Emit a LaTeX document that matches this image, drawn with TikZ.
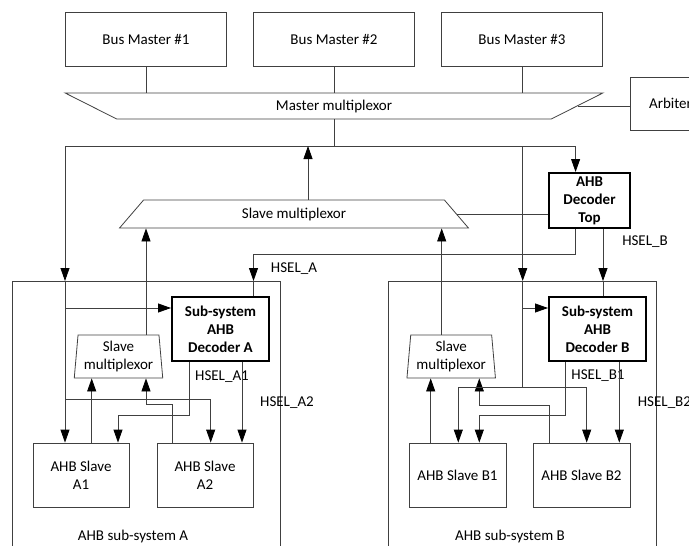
\documentclass[tikz,border=0pt]{standalone}
\usepackage{fontspec}
\setmainfont{Carlito}
\usetikzlibrary{arrows.meta,shapes.geometric}

\begin{document}
\begin{tikzpicture}[x=1pt,y=-1pt,>={Triangle[length=13pt,width=9pt,color=black]},node distance=188pt,
  every node/.style={font=\fontsize{15}{18}\selectfont},
  wire/.style={draw=black!75,line width=0.8pt},
  box/.style={draw=black!75,line width=0.8pt,inner sep=0pt,align=center},
  decoder/.style={draw=black,line width=2pt,inner sep=0pt,align=center,font=\fontsize{15}{18}\selectfont\bfseries},
  mux/.style={trapezium,trapezium stretches=true,draw=black!75,line width=0.8pt,inner sep=0pt,align=center},
  frame/.style={draw=black!75,line width=0.8pt,anchor=north west,minimum width=268pt,minimum height=280pt},
  lbl/.style={inner sep=0pt}]
  \useasboundingbox (0,0) rectangle (689,546);

  \node[box,minimum width=161pt,minimum height=54pt] (bm1) at (146,39) {Bus Master \#1};
  \node[box,minimum width=161pt,minimum height=54pt] (bm2) [right of=bm1] {Bus Master \#2};
  \node[box,minimum width=161pt,minimum height=54pt] (bm3) [right of=bm2] {Bus Master \#3};
  \node[mux,shape border rotate=180,trapezium angle=43,minimum width=538pt,minimum height=26pt] (mmux) at (334,106) {Master multiplexor};
  \node[box,minimum width=80pt,minimum height=53pt] (arb) at (670.5,103.5) {Arbiter}; % rechts abgeschnitten wie im Original
  \node[mux,trapezium angle=57,minimum width=349pt,minimum height=28pt] (smux) at (294,214) {Slave multiplexor};
  \node[decoder,minimum width=81pt,minimum height=55pt] (dectop) at (589.5,200.5) {AHB\\Decoder\\Top};

  \node[frame] (subA) at (11.7,281) {};
  \node[frame] (subB) at (388,281) {};
  \node (labA) at (133,536) {AHB sub-system A};
  \node (labB) at (510,536) {AHB sub-system B};

  \node[decoder,minimum width=97pt,minimum height=64pt] (decA) at (220.5,329) {Sub-system\\AHB\\Decoder A};
  \node[decoder,minimum width=97pt,minimum height=64pt] (decB) at (597.5,329) {Sub-system\\AHB\\Decoder B};
  \node[mux,trapezium angle=84,minimum width=89pt,minimum height=43pt] (smuxA) at (118.5,356.5) {Slave\\multiplexor};
  \node[mux,trapezium angle=84,minimum width=89pt,minimum height=43pt] (smuxB) at (451.2,356.5) {Slave\\multiplexor};
  \node[box,minimum width=96pt,minimum height=64pt] (slA1) at (81,475) {AHB Slave\\A1};
  \node[box,minimum width=96pt,minimum height=64pt] (slA2) [right of=slA1,node distance=124pt] {AHB Slave\\A2};
  \node[box,minimum width=97pt,minimum height=64pt] (slB1) at (457.5,475) {AHB Slave B1};
  \node[box,minimum width=97pt,minimum height=64pt] (slB2) [right of=slB1,node distance=124pt] {AHB Slave B2};

  \node[lbl] (hselA) at (294,269) {HSEL\_A};
  \node[lbl] (hselB) at (645,242) {HSEL\_B};
  \node[lbl] (hselA1) at (222,377) {HSEL\_A1};
  \node[lbl] (hselA2) at (287,403) {HSEL\_A2};
  \node[lbl] (hselB1) at (598,376) {HSEL\_B1};
  \node[lbl,anchor=west] (hselB2) at (637.7,403) {HSEL\_B2};

  \coordinate (busL) at (65,146);
  \coordinate (busR) at (575.6,146);
  \coordinate (busB) at (522.7,146);
  \coordinate (selA) at (253.5,254);
  \coordinate (enA) at (65,308);
  \coordinate (enB) at (522.7,308);
  \coordinate (forkA) at (65,399);
  \coordinate (retA) at (146,404);
  \coordinate (selA1) at (118,415);
  \coordinate (forkB1) at (458.3,387.7);
  \coordinate (forkB2) at (586.7,387.7);
  \coordinate (retB) at (479.3,405);
  \coordinate (selB1) at (479.3,415);

  % Master-Seite
  \draw[wire] (bm1.south) -- (bm1.south |- mmux.north);
  \draw[wire] (bm2.south) -- (bm2.south |- mmux.north);
  \draw[wire] (bm3.south) -- (bm3.south |- mmux.north);
  \draw[wire] (mmux.east) -- (arb.west |- mmux.east);
  \draw[wire] (mmux.south) -- (mmux.south |- busL);
  \draw[wire] (busL) -- (busR);
  \draw[wire,->] (busR) -- (busR |- dectop.north);
  \draw[wire,->] (busL) -- (busL |- subA.north);
  \draw[wire,->] (busL |- subA.north) -- (busL |- slA1.north);
  \draw[wire,->] (busB) -- (busB |- subB.north);
  \draw[wire] (busB |- subB.north) -- (busB |- forkB1);
  \draw[wire,->] ([xshift=14pt]smux.north) -- ([xshift=14pt]smux.north |- busL);
  \draw[wire] (smux.east) -- (smux.east -| dectop.west);
  \draw[wire,->] ([xshift=27.5pt]smuxA.north) -- ([xshift=27.5pt]smuxA.north |- smux.south);
  \draw[wire,->] ([xshift=-9.5pt]smuxB.north) -- ([xshift=-9.5pt]smuxB.north |- smux.south);
  \draw[wire,->] ([xshift=-14pt]dectop.south) |- (selA) -- (selA |- subA.north);
  \draw[wire] (selA |- subA.north) -- (selA |- decA.north);
  \draw[wire,->] ([xshift=13.5pt]dectop.south) -- ([xshift=13.5pt]dectop.south |- subB.north);
  \draw[wire] ([xshift=13.5pt]dectop.south |- subB.north) -- ([xshift=13.5pt]dectop.south |- decB.north);

  % Sub-system A
  \draw[wire,->] (enA) -- (enA -| decA.west);
  \draw[wire,->] ([xshift=10.7pt]slA1.north) -- ([xshift=10.7pt]slA1.north |- smuxA.south);
  \draw[wire,->] ([xshift=-32.7pt]slA2.north) |- (retA) -- (retA |- smuxA.south);
  \draw[wire,->] (forkA) -| ([xshift=5.7pt]slA2.north);
  \draw[wire,->] ([xshift=-31.5pt]decA.south) |- (selA1) -- (selA1 |- slA1.north);
  \draw[wire,->] ([xshift=21.5pt]decA.south) -- ([xshift=21.5pt]decA.south |- slA2.north);

  % Sub-system B
  \draw[wire,->] (enB) -- (enB -| decB.west);
  \draw[wire,->] ([xshift=-26.8pt]slB1.north) -- ([xshift=-26.8pt]slB1.north |- smuxB.south);
  \draw[wire,->] ([xshift=-32.2pt]slB2.north) |- (retB) -- (retB |- smuxB.south);
  \draw[wire] (forkB1) -- (forkB2);
  \draw[wire,->] (forkB1) -- (forkB1 |- slB1.north);
  \draw[wire,->] (forkB2) -- (forkB2 |- slB2.north);
  \draw[wire,->] ([xshift=-31.8pt]decB.south) |- (selB1) -- (selB1 |- slB1.north);
  \draw[wire,->] ([xshift=21.8pt]decB.south) -- ([xshift=21.8pt]decB.south |- slB2.north);
\end{tikzpicture}
\end{document}
